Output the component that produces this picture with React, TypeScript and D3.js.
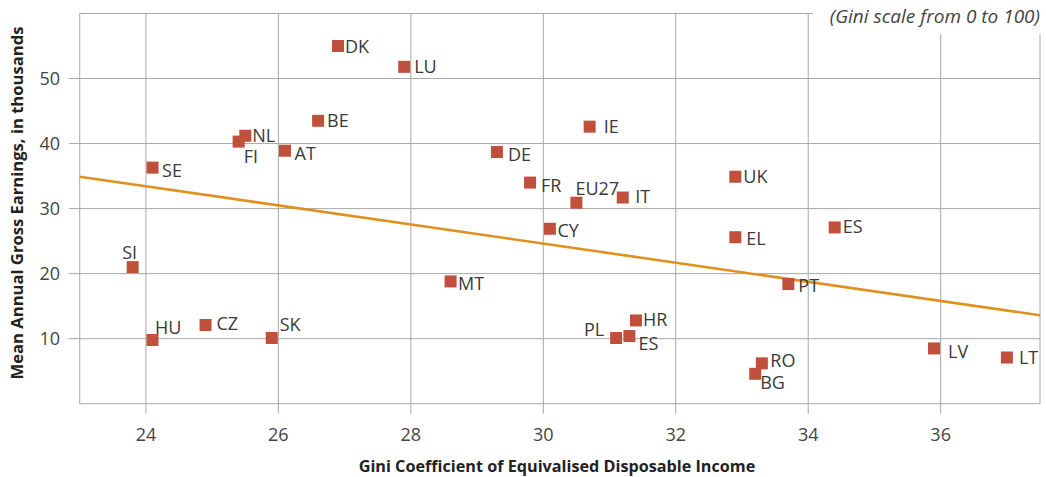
import React from 'react';
import * as d3 from 'd3';

// ---- data ----
const countries = ['DK', 'LU', 'BE', 'NL', 'FI', 'AT', 'SE', 'IE', 'DE', 'FR', 'EU27', 'IT', 'CY', 'UK', 'EL', 'ES', 'PT', 'MT', 'HR', 'PL', 'ES', 'RO', 'BG', 'LV', 'LT', 'SI', 'HU', 'CZ', 'SK'];
const gini = [26.9, 27.9, 26.6, 25.5, 25.4, 26.1, 24.1, 30.7, 29.3, 29.8, 30.5, 31.2, 30.1, 32.9, 32.9, 34.4, 33.7, 28.6, 31.4, 31.1, 31.3, 33.3, 33.2, 35.9, 37.0, 23.8, 24.1, 24.9, 25.9];
const earnings = [55.0, 51.8, 43.5, 41.2, 40.3, 38.9, 36.3, 42.6, 38.7, 34.0, 30.9, 31.7, 26.9, 34.9, 25.6, 27.1, 18.4, 18.8, 12.8, 10.1, 10.4, 6.2, 4.6, 8.5, 7.1, 21.0, 9.8, 12.1, 10.1];
const trendX = [23, 37.5];
const trendY = [34.9, 13.6];
const xTicks = [24, 26, 28, 30, 32, 34, 36];
const yTicks = [10, 20, 30, 40, 50];

// label placement relative to marker centre (layout only): [dx, dy(baseline), anchor]
const labelLayout: [number, number, string][] = [
  [7, 6.5, 'start'],   // DK
  [10, 6.5, 'start'],  // LU
  [9, 6.5, 'start'],   // BE
  [7, 6.5, 'start'],   // NL
  [5, 21.5, 'start'],  // FI
  [9.5, 9.5, 'start'], // AT
  [9.5, 9, 'start'],   // SE
  [14, 6.5, 'start'],  // IE
  [11, 8.5, 'start'],  // DE
  [11, 9, 'start'],    // FR
  [-1, -7.5, 'start'], // EU27
  [12.5, 5.5, 'start'],// IT
  [7.5, 8, 'start'],   // CY
  [8, 6.5, 'start'],   // UK
  [11, 8, 'start'],    // EL
  [8, 5.5, 'start'],   // ES
  [10, 8, 'start'],    // PT
  [7.5, 8.5, 'start'], // MT
  [7, 5.5, 'start'],   // HR
  [-12, -2, 'end'],    // PL
  [9, 13.5, 'start'],  // ES
  [8.5, 4, 'start'],   // RO
  [5, 15.5, 'start'],  // BG
  [14, 9.5, 'start'],  // LV
  [12, 6.5, 'start'],  // LT
  [-10.5, -8.5, 'start'], // SI
  [2.5, -5.5, 'start'],// HU
  [11, 5, 'start'],    // CZ
  [8, -7, 'start'],    // SK
];

const W = 1046;
const H = 477;
const left = 79.7;
const right = 1040;
const top = 13.5;
const bottom = 403.7;

const FONT = '"Open Sans", "DejaVu Sans", sans-serif';

export default function App() {
  const x = d3.scaleLinear().domain([23, 37.5]).range([left, right]);
  const y = d3.scaleLinear().domain([0, 60]).range([bottom, top]);
  const line = d3.line<[number, number]>().x(d => x(d[0])).y(d => y(d[1]));
  const trend: [number, number][] = trendX.map((v, i) => [v, trendY[i]]);
  const grid = '#a8a8a8';
  const ms = 12;

  return (
    <svg width={W} height={H} style={{ position: 'absolute', left: 0, top: 0, background: '#fff' }}>
      <rect x={0} y={0} width={W} height={H} fill="#fff" />
      {/* vertical gridlines with ticks */}
      {xTicks.map(t => (
        <line key={'vx' + t} x1={x(t)} x2={x(t)} y1={top} y2={bottom + 10} stroke={grid} strokeWidth={1} />
      ))}
      {/* horizontal gridlines with ticks */}
      {yTicks.map(t => (
        <line key={'hy' + t} x1={left - 11} x2={right} y1={y(t)} y2={y(t)} stroke={grid} strokeWidth={1} />
      ))}
      {/* frame */}
      <rect x={left} y={top} width={right - left} height={bottom - top} fill="none" stroke={grid} strokeWidth={1} />
      {/* annotation background */}
      <rect x={813} y={0} width={W - 813} height={34} fill="#fff" />
      <text x={1040} y={23} textAnchor="end" fontFamily={FONT} fontStyle="italic" fontSize={19} fill="#444">
        (Gini scale from 0 to 100)
      </text>
      {/* tick labels */}
      {xTicks.map(t => (
        <text key={'xl' + t} x={x(t)} y={441} textAnchor="middle" fontFamily={FONT} fontSize={18} fill="#444">
          {t}
        </text>
      ))}
      {yTicks.map(t => (
        <text key={'yl' + t} x={60} y={y(t) + 6.5} textAnchor="end" fontFamily={FONT} fontSize={18} fill="#444">
          {t}
        </text>
      ))}
      {/* axis titles */}
      <text x={557} y={472} textAnchor="middle" fontFamily={FONT} fontWeight="bold" fontSize={16.2} fill="#222">
        Gini Coefficient of Equivalised Disposable Income
      </text>
      <text transform={`translate(23, 203) rotate(-90)`} textAnchor="middle" fontFamily={FONT} fontWeight="bold" fontSize={16.6} fill="#222">
        Mean Annual Gross Earnings, in thousands
      </text>
      {/* trend line */}
      <path d={line(trend) || ''} fill="none" stroke="#e0901f" strokeWidth={2.6} />
      {/* markers */}
      {countries.map((c, i) => (
        <rect key={'m' + i} x={x(gini[i]) - ms / 2} y={y(earnings[i]) - ms / 2} width={ms} height={ms} fill="#c0503c" />
      ))}
      {/* labels */}
      {countries.map((c, i) => {
        const [dx, dy, anchor] = labelLayout[i];
        return (
          <text key={'l' + i} x={x(gini[i]) + dx} y={y(earnings[i]) + dy} textAnchor={anchor as any} fontFamily={FONT} fontSize={18} fill="#3a3a3a">
            {c}
          </text>
        );
      })}
    </svg>
  );
}
